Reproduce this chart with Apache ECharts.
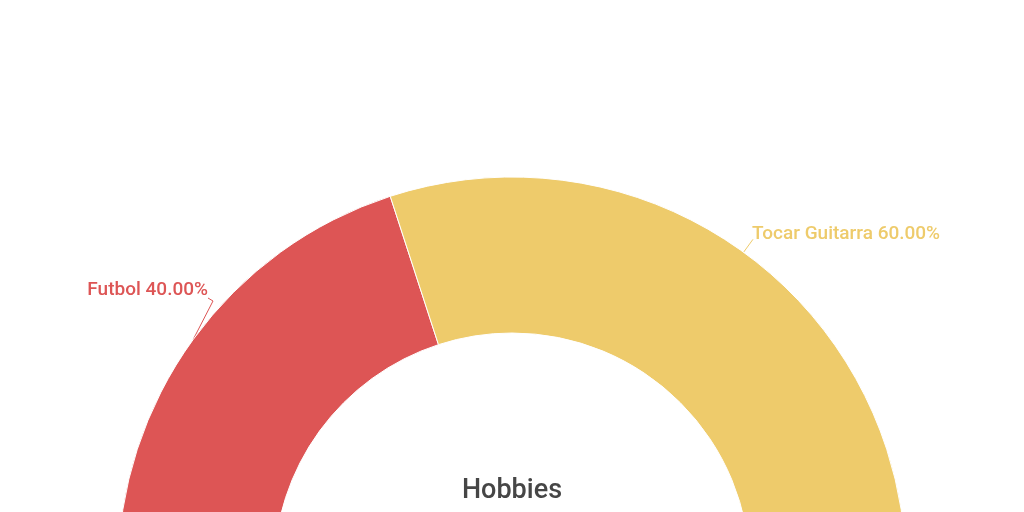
<!DOCTYPE html>
<html>
<head>
<meta charset="utf-8">
<script src="https://cdn.jsdelivr.net/npm/echarts@6/dist/echarts.min.js"></script>
<style>html,body{margin:0;padding:0;background:#fff;}#c{width:1024px;height:512px;}</style>
</head>
<body>
<div id="c"></div>
<script>
const categories = ['Futbol', 'Tocar Guitarra'];
const values = [40, 60];
const colors = ['#dd5555', '#eecb6b'];

const chart = echarts.init(document.getElementById('c'));
chart.setOption({
  backgroundColor: '#fff',
  animation: false,
  title: {
    text: 'Hobbies',
    left: 'center',
    top: 473,
    textStyle: { fontFamily: 'Roboto', fontSize: 27, fontWeight: 500, color: '#464646' }
  },
  series: [{
    type: 'pie',
    center: ['50%', 571],
    radius: [238, 394],
    startAngle: 180,
    endAngle: 0,
    clockwise: true,
    itemStyle: { borderColor: '#fff', borderWidth: 1 },
    label: {
      show: true,
      fontFamily: 'Roboto',
      fontSize: 19,
      fontWeight: 500,
      distanceToLabelLine: 0,
      formatter: function (p) { return p.name + ' ' + p.percent.toFixed(2) + '%'; }
    },
    labelLine: { length: 16, length2: 0, lineStyle: { width: 1 } },
    labelLayout: function (p) {
      if (!p.labelLinePoints) return {};
      const s = p.labelLinePoints[0];
      if (p.dataIndex === 0) {
        return {
          x: 208, y: 290, align: 'right', verticalAlign: 'middle',
          labelLinePoints: [[s[0], s[1]], [213, 301], [208, 298]]
        };
      }
      const e = p.labelLinePoints[p.labelLinePoints.length - 1];
      return {
        x: e[0] - 1, y: e[1] - 5, align: 'left', verticalAlign: 'middle',
        labelLinePoints: p.labelLinePoints
      };
    },
    data: categories.map((c, i) => ({ name: c, value: values[i], itemStyle: { color: colors[i] }, label: { color: colors[i] } }))
  }]
});
</script>
</body>
</html>
